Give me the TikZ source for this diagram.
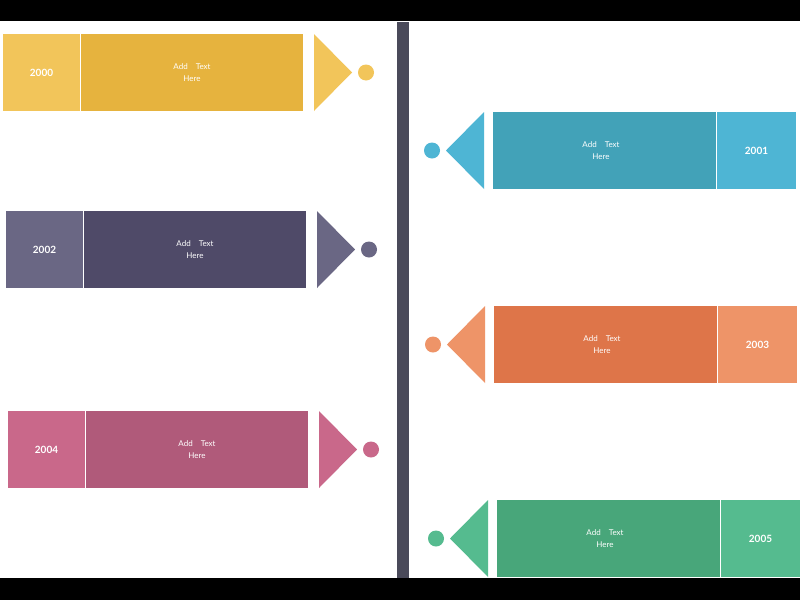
\documentclass[tikz,border=0pt]{standalone}
\usepackage{fontspec}
\setmainfont{Lato}
\begin{document}
\begin{tikzpicture}[x=1pt,y=-1pt,
 lbl/.style={text=white,font=\fontsize{8}{10}\selectfont,align=center},
 yr/.style={text=white,font=\fontsize{10}{12}\selectfont\bfseries}]
\useasboundingbox (0,0) rectangle (800,600);
\fill[black] (0,0) rectangle (800,21);
\fill[black] (0,578) rectangle (800,600);
\fill[white] (0,21) rectangle (800,578);
\fill[fill={rgb,255:red,74;green,74;blue,90}] (397,22) rectangle (409,578);
% args: yearcol, maincol
\newcommand{\leftrow}[7]{% #1 x0 #2 y0 #3 yearcol #4 maincol #5 year #6 name #7 tri offset
 \definecolor{yc#6}{HTML}{#3}\definecolor{mc#6}{HTML}{#4}
 \fill[yc#6] (#1,#2) rectangle ++(77,77);
 \fill[mc#6] (#1+78,#2) rectangle ++(222,77);
 \node[yr] (y#6) at (#1+38.5,#2+38.5) {#5};
 \node[lbl] (t#6) at (#1+189,#2+38.5) {Add\quad Text\\[2pt]Here};
 \coordinate (a#6) at (#1+311,#2);
 \fill[yc#6] (a#6) -- ++(0,77) -- ++(38,-38.5) -- cycle;
 \fill[yc#6] (#1+363,#2+38.5) circle (8);
}
\newcommand{\rightrow}[6]{% #1 x of main left #2 y0
 \definecolor{yc#6}{HTML}{#3}\definecolor{mc#6}{HTML}{#4}
 \fill[mc#6] (#1,#2) rectangle ++(223,77);
 \fill[yc#6] (#1+224,#2) rectangle ++(79,77);
 \node[yr] (y#6) at (#1+263.5,#2+38.5) {#5};
 \node[lbl] (t#6) at (#1+108,#2+38.5) {Add\quad Text\\[2pt]Here};
 \fill[yc#6] (#1-9,#2) -- ++(0,77) -- ++(-38,-38.5) -- cycle;
 \fill[yc#6] (#1-61,#2+38.5) circle (8);
}
\leftrow{3}{34}{F2C55A}{E6B33E}{2000}{a}{}
\leftrow{6}{211}{6A6784}{4F4A68}{2002}{b}{}
\leftrow{8}{411}{C9688A}{B05A7A}{2004}{c}{}
\rightrow{493}{112}{4EB5D4}{42A2B8}{2001}{d}
\rightrow{494}{306}{EE9468}{DE7549}{2003}{e}
\rightrow{497}{500}{55BB8F}{48A67A}{2005}{f}
\end{tikzpicture}
\end{document}
